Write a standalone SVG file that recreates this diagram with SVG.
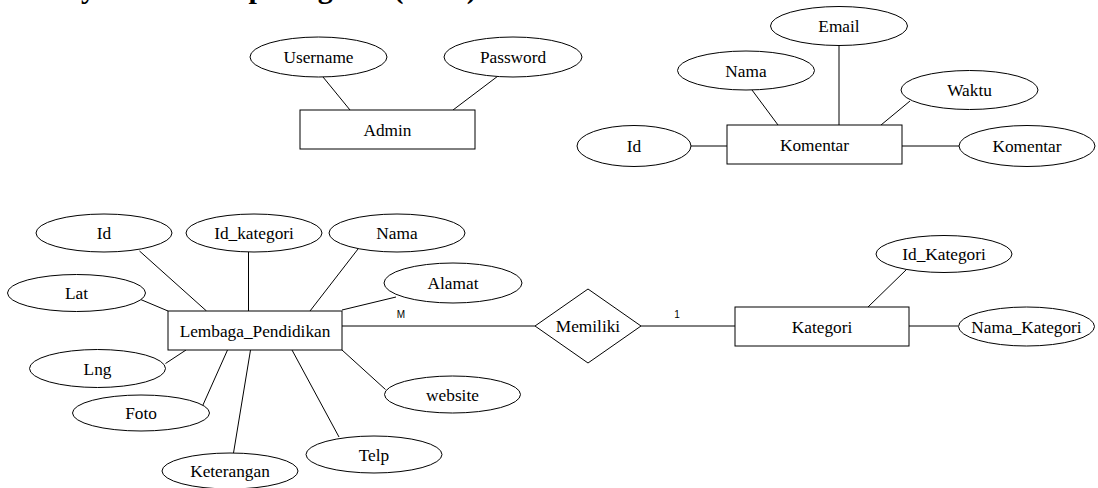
<svg xmlns="http://www.w3.org/2000/svg" width="1098" height="488" viewBox="0 0 1098 488">
  <style>
    .ent { fill: #fff; stroke: #000; stroke-width: 1; }
    .att { fill: #fff; stroke: #000; stroke-width: 1; }
    .rel { fill: #fff; stroke: #000; stroke-width: 1; }
    .lbl { font-family: "Liberation Serif", "Times New Roman", serif; font-size: 17.3px; fill: #000; text-anchor: middle; }
    .card { font-family: "Liberation Sans", Arial, sans-serif; font-size: 10px; fill: #000; text-anchor: middle; }
    .title { font-family: "Liberation Serif", "Times New Roman", serif; font-size: 30px; font-weight: bold; fill: #000; }
    #connectors line { stroke: #000; stroke-width: 1; }
  </style>

  <rect width="1098" height="488" fill="#fff"/>

  <!-- heading above the diagram -->
  <text class="title" x="16" y="-2.5">Entity Relationship Diagram (ERD)</text>

  <!-- connectors -->
  <g id="connectors">
    <!-- Admin -->
    <line x1="323" y1="77" x2="350" y2="110"/>
    <line x1="498" y1="76" x2="453" y2="110"/>
    <!-- Komentar -->
    <line x1="839" y1="45" x2="839" y2="125"/>
    <line x1="752" y1="90" x2="778" y2="125"/>
    <line x1="910" y1="101" x2="881" y2="125"/>
    <line x1="691" y1="146" x2="727" y2="146"/>
    <line x1="902" y1="146" x2="959" y2="146"/>
    <!-- Lembaga_Pendidikan -->
    <line x1="139.5" y1="251" x2="206.5" y2="311"/>
    <line x1="248.5" y1="252" x2="248.5" y2="311"/>
    <line x1="358" y1="249" x2="310" y2="311"/>
    <line x1="396" y1="297" x2="342" y2="310"/>
    <line x1="139.5" y1="299" x2="168" y2="311"/>
    <line x1="165.5" y1="363.5" x2="186" y2="350"/>
    <line x1="202.5" y1="406" x2="227.5" y2="350"/>
    <line x1="233.5" y1="453" x2="250.5" y2="350"/>
    <line x1="339" y1="437" x2="292" y2="350"/>
    <line x1="385.5" y1="389.5" x2="342" y2="350"/>
    <!-- relationship -->
    <line x1="342" y1="326" x2="535" y2="326"/>
    <line x1="641" y1="326" x2="735" y2="326"/>
    <!-- Kategori -->
    <line x1="907" y1="269" x2="868" y2="307"/>
    <line x1="909" y1="326" x2="958" y2="326"/>
  </g>

  <!-- Admin entity -->
  <g id="admin">
    <rect class="ent" x="300" y="110" width="175" height="39"/>
    <text class="lbl" x="387.5" y="136">Admin</text>
  </g>
  <g id="admin-username">
    <ellipse class="att" cx="318.5" cy="57" rx="68.5" ry="20"/>
    <text class="lbl" x="318.5" y="63">Username</text>
  </g>
  <g id="admin-password">
    <ellipse class="att" cx="513" cy="57" rx="69" ry="20"/>
    <text class="lbl" x="513" y="63">Password</text>
  </g>

  <!-- Komentar entity -->
  <g id="komentar">
    <rect class="ent" x="727" y="125" width="175" height="39"/>
    <text class="lbl" x="814.5" y="151">Komentar</text>
  </g>
  <g id="komentar-email">
    <ellipse class="att" cx="839" cy="26" rx="68.5" ry="19.5"/>
    <text class="lbl" x="839" y="32">Email</text>
  </g>
  <g id="komentar-nama">
    <ellipse class="att" cx="746" cy="70.5" rx="68.5" ry="19.5"/>
    <text class="lbl" x="746" y="76.5">Nama</text>
  </g>
  <g id="komentar-waktu">
    <ellipse class="att" cx="969.5" cy="90" rx="68.5" ry="19.5"/>
    <text class="lbl" x="969.5" y="96">Waktu</text>
  </g>
  <g id="komentar-id">
    <ellipse class="att" cx="634" cy="146" rx="57" ry="20.5"/>
    <text class="lbl" x="634" y="152">Id</text>
  </g>
  <g id="komentar-komentar">
    <ellipse class="att" cx="1027" cy="146" rx="68" ry="20.5"/>
    <text class="lbl" x="1027" y="152">Komentar</text>
  </g>

  <!-- Lembaga_Pendidikan entity -->
  <g id="lembaga">
    <rect class="ent" x="168" y="311" width="174" height="39"/>
    <text class="lbl" x="255" y="337">Lembaga_Pendidikan</text>
  </g>
  <g id="lembaga-id">
    <ellipse class="att" cx="104" cy="233" rx="68" ry="19"/>
    <text class="lbl" x="104" y="239">Id</text>
  </g>
  <g id="lembaga-id-kategori">
    <ellipse class="att" cx="254" cy="233" rx="68" ry="19"/>
    <text class="lbl" x="254" y="239">Id_kategori</text>
  </g>
  <g id="lembaga-nama">
    <ellipse class="att" cx="397" cy="233" rx="68" ry="19"/>
    <text class="lbl" x="397" y="239">Nama</text>
  </g>
  <g id="lembaga-alamat">
    <ellipse class="att" cx="453" cy="283" rx="69" ry="20"/>
    <text class="lbl" x="453" y="289">Alamat</text>
  </g>
  <g id="lembaga-lat">
    <ellipse class="att" cx="76.5" cy="293" rx="69" ry="18.5"/>
    <text class="lbl" x="76.5" y="299">Lat</text>
  </g>
  <g id="lembaga-lng">
    <ellipse class="att" cx="97.5" cy="368.5" rx="68" ry="19"/>
    <text class="lbl" x="97.5" y="374.5">Lng</text>
  </g>
  <g id="lembaga-foto">
    <ellipse class="att" cx="141" cy="413" rx="68.5" ry="18"/>
    <text class="lbl" x="141" y="419">Foto</text>
  </g>
  <g id="lembaga-keterangan">
    <ellipse class="att" cx="230" cy="471" rx="68" ry="18"/>
    <text class="lbl" x="230" y="477">Keterangan</text>
  </g>
  <g id="lembaga-telp">
    <ellipse class="att" cx="374" cy="454.5" rx="68" ry="18.5"/>
    <text class="lbl" x="374" y="460.5">Telp</text>
  </g>
  <g id="lembaga-website">
    <ellipse class="att" cx="452.5" cy="394.5" rx="68" ry="18.5"/>
    <text class="lbl" x="452.5" y="400.5">website</text>
  </g>

  <!-- Memiliki relationship -->
  <g id="memiliki">
    <polygon class="rel" points="535,326 588,289 641,326 588,363"/>
    <text class="lbl" x="588" y="332">Memiliki</text>
  </g>
  <text class="card" x="401" y="318">M</text>
  <text class="card" x="677" y="318">1</text>

  <!-- Kategori entity -->
  <g id="kategori">
    <rect class="ent" x="735" y="307" width="174" height="39"/>
    <text class="lbl" x="822" y="332.5">Kategori</text>
  </g>
  <g id="kategori-id">
    <ellipse class="att" cx="944" cy="254" rx="68" ry="18.5"/>
    <text class="lbl" x="944" y="260">Id_Kategori</text>
  </g>
  <g id="kategori-nama">
    <ellipse class="att" cx="1026.5" cy="326.5" rx="68" ry="19.5"/>
    <text class="lbl" x="1026.5" y="332.5">Nama_Kategori</text>
  </g>
</svg>
